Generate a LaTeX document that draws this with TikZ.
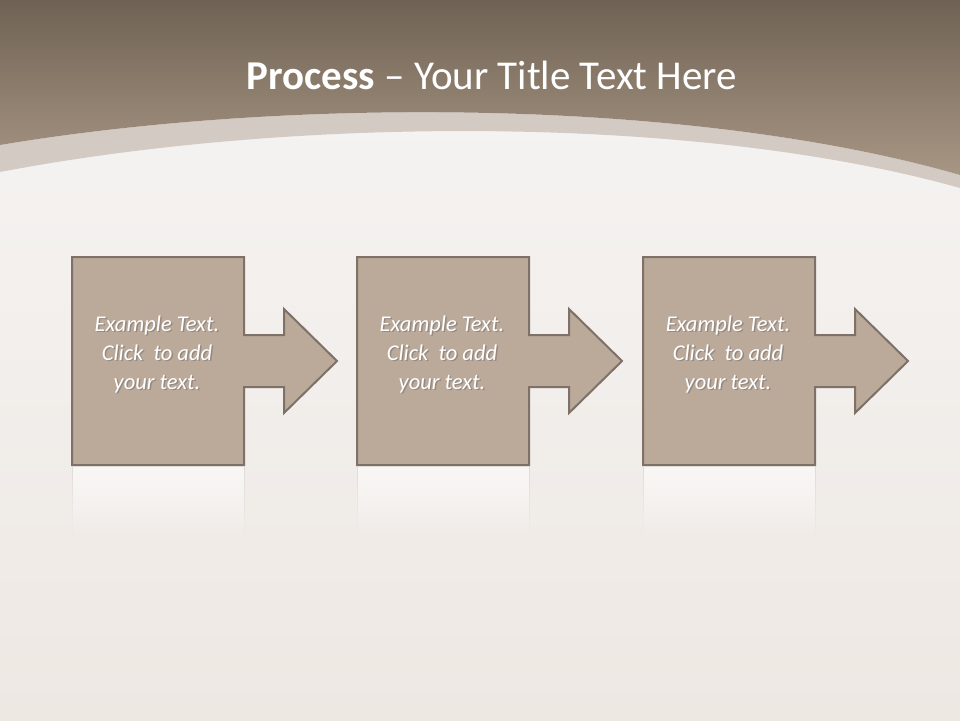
\documentclass[tikz,border=0pt]{standalone}
\usepackage{fontspec}
\setmainfont{Carlito}
\usetikzlibrary{fadings}
\definecolor{bg}{HTML}{F6F5F4}
\definecolor{bgdark}{HTML}{EEE8E3}
\definecolor{hdtop}{HTML}{6F6254}
\definecolor{hdbot}{HTML}{A89684}
\definecolor{band}{HTML}{D3CBC3}
\definecolor{boxfill}{HTML}{BBA999}
\definecolor{boxline}{HTML}{7E7168}
\tikzset{
  procshape/.style={fill=boxfill, draw=boxline, line width=2pt, line join=miter},
  proctext/.style={text=white, font=\itshape\fontsize{22.5}{29}\selectfont, align=center},
  shadowtext/.style={text=black!60, font=\itshape\fontsize{22.5}{29}\selectfont, align=center, opacity=0.45},
  reflect/.style={fill=white, fill opacity=0.6, draw=boxline!25, line width=1pt, path fading=south}
}
\newcommand{\procarrow}[2]{% #1 = left x, #2 = name
  \draw[procshape] (#1,257) -- ++(172,0) -- ++(0,78) -- ++(40,0) -- ++(0,-26)
    -- ++(53,52) -- ++(-53,52) -- ++(0,-26) -- ++(-40,0) -- ++(0,78)
    -- ++(-172,0) -- cycle;
  \draw[reflect] (#1,467) rectangle ++(172,70);
  \coordinate (#2) at (#1+85,354);
  \node[shadowtext] at ([xshift=1.5pt,yshift=-1.5pt]#2) {Example Text.\\Click\ \ to add\\your text.};
  \node[proctext] at (#2) {Example Text.\\Click\ \ to add\\your text.};
}
\begin{document}
\begin{tikzpicture}[x=1pt,y=-1pt]
\useasboundingbox (0,0) rectangle (960,720);
\shade[top color=bg, bottom color=bgdark] (0,0) rectangle (960,720);
\fill[band] (0,145) .. controls (300,95) and (700,100) .. (960,175) -- (960,188) .. controls (700,115) and (300,115) .. (0,172) -- cycle;
\shade[top color=hdtop, bottom color=hdbot] (0,0) -- (960,0) -- (960,175) .. controls (700,100) and (300,95) .. (0,145) -- cycle;
\node[text=white, font=\fontsize{41}{45}\selectfont] (title) at (492,75) {\textbf{Process} -- Your Title Text Here};
\procarrow{72}{t1}
\procarrow{357}{t2}
\procarrow{643}{t3}
\end{tikzpicture}
\end{document}
